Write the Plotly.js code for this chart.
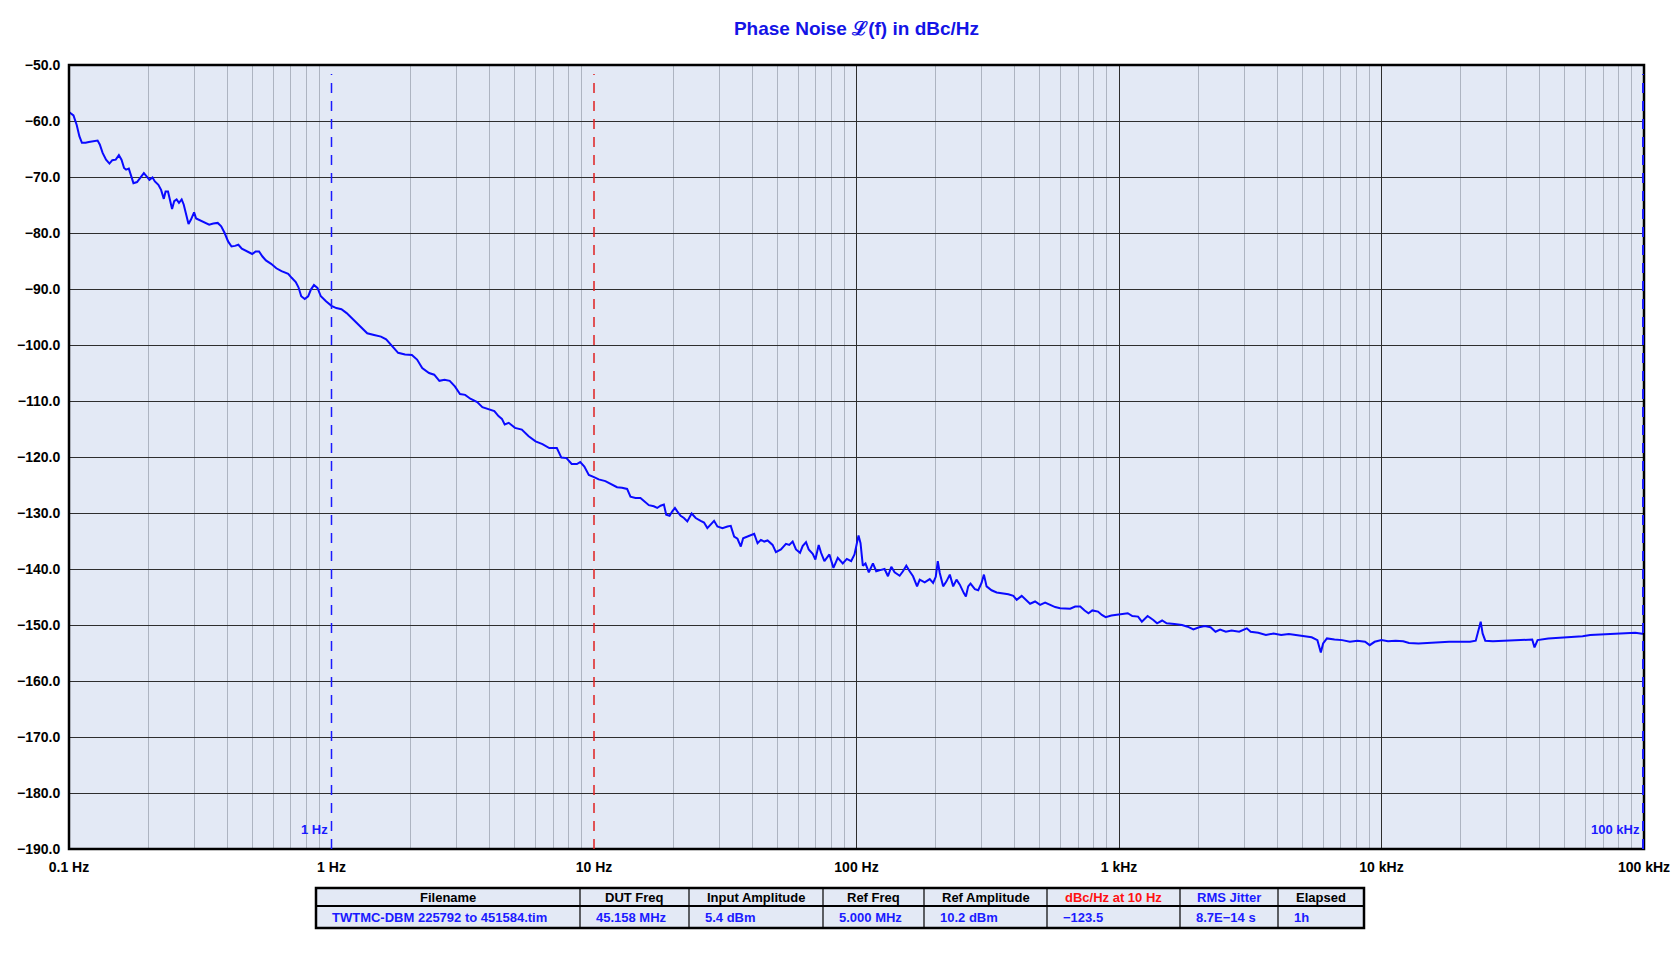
<!DOCTYPE html>
<html>
<head>
<meta charset="utf-8">
<script src="https://cdn.plot.ly/plotly-3.0.1.min.js"></script>
<style>html,body{margin:0;padding:0;background:#fff;}#chart{width:1680px;height:967px;}</style>
</head>
<body>
<div id="chart"></div>
<script>
// ---------- DATA ----------
const freqHz = [
  0.1, 0.104, 0.107, 0.1095, 0.112, 0.1156, 0.119, 0.1247, 0.1285, 0.131, 0.1343, 0.1384, 0.1426, 0.1462, 0.1507,
  0.1549, 0.1585, 0.1621, 0.165, 0.169, 0.172, 0.176, 0.1816, 0.1871, 0.1928, 0.1976, 0.2025, 0.208, 0.2124, 0.219,
  0.2243, 0.2297, 0.2333, 0.2383, 0.2427, 0.247, 0.2517, 0.257, 0.2624, 0.2687, 0.2735, 0.2786, 0.2853, 0.2915, 0.2996,
  0.305, 0.317, 0.332, 0.342, 0.3546, 0.3686, 0.3801, 0.3917, 0.4037, 0.416, 0.4287, 0.4418, 0.4553, 0.4766, 0.4989,
  0.514, 0.5297, 0.5458, 0.5625, 0.5888, 0.6164, 0.6452, 0.6842, 0.7051, 0.7309, 0.7485, 0.7668, 0.7905, 0.8149, 0.8346,
  0.8574, 0.8839, 0.9109, 0.9529, 1.0, 1.043, 1.091, 1.142, 1.213, 1.269, 1.328, 1.368, 1.453, 1.543, 1.615,
  1.689, 1.794, 1.906, 2.024, 2.118, 2.216, 2.353, 2.462, 2.576, 2.695, 2.82, 2.951, 3.087, 3.23, 3.38,
  3.59, 3.756, 3.93, 4.172, 4.326, 4.459, 4.568, 4.733, 5.0, 5.309, 5.638, 5.99, 6.362, 6.756, 7.22,
  7.51, 7.857, 8.222, 8.603, 8.863, 9.188, 9.556, 10.0,
  10.42, 11.05, 11.72, 12.24, 12.79, 13.37, 13.77, 14.39, 15.03, 15.71, 16.18, 16.9, 17.41, 17.93, 18.46,
  18.84, 19.41, 19.87, 20.34, 20.76, 21.38, 22.01, 22.67, 23.55, 24.4, 25.5, 26.25, 27.03, 27.84, 28.67,
  29.52, 30.85, 32.24, 33.19, 34.19, 35.2, 36.25, 37.0, 38.43, 39.58, 40.76, 41.98, 43.23, 44.51, 45.84,
  47.9, 49.32, 51.54, 53.86, 55.46, 57.12, 58.82, 60.92, 62.36, 64.22, 65.74, 68.1, 69.72, 71.78, 73.28,
  75.46, 78.86, 81.68, 84.85, 88.66, 91.86, 95.41, 98.26, 100, 101.8, 103.6, 105.7, 108.2, 111.4, 115.5,
  118.9, 123.1, 127.9, 131.8, 135.7, 139.7, 146.0, 150.3, 154.8, 159.4, 164.2, 170.1, 174.1, 181.9, 190.1,
  195.8, 200.4, 204.0, 207.6, 213.8, 220.2, 226.7, 233.5, 240.4, 247.5, 256.4, 261.0, 266.4, 271.9, 282.5,
  290.9, 299.5, 305.8, 313.0, 327.0, 341.9, 362.5, 378.8, 395.8, 407.6, 425.9, 445.1, 458.3, 479.0, 500.5,
  523.0, 546.6, 571.2, 596.9, 623.7, 651.7, 681.0, 711.7,
  739.8, 765.1, 791.2, 832.0, 860.3, 889.5, 935.2, 983.3, 1034, 1080, 1124, 1182, 1222, 1285, 1351,
  1397, 1460, 1519, 1625, 1737, 1826, 1920, 2019, 2123, 2232, 2332, 2428, 2553, 2684, 2870,
  3069, 3173, 3393, 3627, 3879, 4147, 4435, 4742, 5070, 5420, 5699, 5873, 5992, 6196, 6625,
  7085, 7576, 8099, 8660, 9014, 9416, 10000, 10586, 11321, 12101, 12729, 13836, 14795, 16359, 18087,
  19996, 21737, 22856, 23399, 23873, 24277, 24850, 26572, 28893, 31946, 34735, 37511, 38270, 39310, 43170,
  47730, 52780, 58340, 62390, 68980, 76260, 84330, 92610, 100000
];
const phaseNoiseDbcHz = [
  -58.4, -59.0, -60.7, -62.7, -63.9, -63.9, -63.75, -63.6, -63.5, -64.2, -65.7, -66.9, -67.6, -67.0, -66.9,
  -66.1, -66.9, -68.4, -68.7, -68.5, -69.6, -71.1, -70.9, -70.1, -69.3, -69.9, -70.5, -70.1, -70.8, -71.4,
  -72.3, -73.9, -72.6, -72.6, -74.0, -75.7, -74.3, -74.0, -74.6, -74.0, -74.9, -76.7, -78.4, -77.6, -76.3,
  -77.4, -77.8, -78.2, -78.5, -78.3, -78.2, -78.8, -80.0, -81.5, -82.4, -82.3, -82.1, -82.8, -83.3, -83.75,
  -83.3, -83.3, -84.2, -84.9, -85.5, -86.3, -86.8, -87.3, -88.0, -88.75, -89.7, -91.3, -91.8, -91.3, -90.1,
  -89.3, -89.8, -91.3, -92.2, -93.0, -93.4, -93.6, -94.3, -95.5, -96.25, -97.3, -97.9, -98.2, -98.5, -99.0,
  -100.1, -101.4, -101.7, -101.8, -102.6, -104.1, -105.0, -105.3, -106.4, -106.2, -106.4, -107.4, -108.75, -108.9, -109.6,
  -110.2, -111.1, -111.4, -111.8, -112.7, -113.2, -114.2, -113.9, -114.8, -115.1, -116.3, -117.2, -117.7, -118.4, -118.4,
  -120.1, -120.2, -121.25, -121.25, -120.9, -121.7, -123.2, -123.6,
  -124.0, -124.3, -124.9, -125.4, -125.5, -125.7, -127.1, -127.3, -127.3, -128.1, -128.6, -128.8, -129.1, -128.7, -128.5,
  -130.3, -130.5, -129.7, -129.1, -129.7, -130.5, -130.9, -131.5, -130.1, -130.9, -131.4, -131.7, -132.7, -132.1, -131.4,
  -132.4, -132.7, -132.4, -132.3, -134.2, -134.6, -136.0, -134.5, -134.2, -133.9, -133.7, -135.4, -134.8, -135.1, -134.9,
  -135.7, -137.0, -136.5, -135.5, -135.7, -135.1, -136.5, -137.1, -135.9, -135.2, -136.5, -137.3, -138.3, -135.7, -137.1,
  -138.6, -137.4, -139.8, -138.0, -139.0, -138.2, -138.6, -137.4, -135.7, -134.0, -135.4, -139.4, -139.0, -140.6, -139.0,
  -140.4, -140.2, -140.0, -141.3, -139.6, -140.6, -141.2, -140.4, -139.4, -140.4, -141.3, -143.1, -141.9, -142.4, -141.8,
  -142.5, -141.4, -138.6, -140.7, -143.1, -142.2, -141.0, -143.1, -141.9, -142.8, -144.3, -144.9, -143.1, -142.6, -143.6,
  -143.8, -142.5, -141.0, -143.1, -143.8, -144.2, -144.3, -144.5, -144.8, -145.5, -144.8, -145.6, -146.2, -145.8, -146.4,
  -146.0, -146.4, -146.8, -147.0, -147.1, -147.1, -146.7, -146.7,
  -147.4, -147.9, -147.4, -147.6, -148.2, -148.6, -148.3, -148.2, -148.1, -147.9, -148.4, -148.5, -149.4, -148.4, -149.1,
  -149.7, -149.2, -149.7, -149.8, -150.0, -150.3, -150.8, -150.4, -150.2, -150.4, -151.2, -150.8, -151.2, -151.0, -151.2,
  -150.6, -151.2, -151.4, -151.8, -151.5, -151.8, -151.6, -151.8, -152.0, -152.2, -152.7, -154.9, -153.3, -152.4, -152.6,
  -152.7, -153.0, -152.8, -153.0, -153.6, -153.0, -152.7, -152.9, -152.8, -152.9, -153.2, -153.3, -153.2, -153.1, -153.0,
  -153.0, -153.0, -152.8, -151.2, -149.4, -151.5, -152.8, -152.9, -152.8, -152.8, -152.7, -152.6, -154.0, -152.7, -152.4,
  -152.3, -152.2, -152.0, -151.8, -151.7, -151.6, -151.6, -151.4, -151.6
];

const xTickVals = [0.1, 1, 10, 100, 1000, 10000, 100000];
const xTickText = ['0.1 Hz', '1 Hz', '10 Hz', '100 Hz', '1 kHz', '10 kHz', '100 kHz'];
const majorGridFreqs = [100, 1000, 10000];   // decades not covered by a marker line

const markerFreqs = [1, 10, 100000];
const markerColors = ['#1a1aff', '#e02020', '#1a1aff'];
const markerLabels = ['1 Hz', '', '100 kHz'];

const tableHeaders = ['Filename', 'DUT Freq', 'Input Amplitude', 'Ref Freq', 'Ref Amplitude', 'dBc/Hz at 10 Hz', 'RMS Jitter', 'Elapsed'];
const tableValues = ['TWTMC-DBM 225792 to 451584.tim', '45.158 MHz', '5.4 dBm', '5.000 MHz', '10.2 dBm', '\u2212123.5', '8.7E\u221214 s', '1h'];
const tableHeaderColors = ['#000000', '#000000', '#000000', '#000000', '#000000', '#ff1010', '#1a1aff', '#000000'];

// ---------- LAYOUT GEOMETRY ----------
const W = 1680, H = 967;
const M = {l: 69, r: 36, t: 65, b: 30};
const PW = W - M.l - M.r, PH = H - M.t - M.b;
const plotBottomPx = 849;
const yDomLow = (H - M.b - plotBottomPx) / PH;
const tblTopPx = 888, tblMidPx = 906, tblBotPx = 928, tblLeftPx = 316;
const colW = [264, 109, 134, 101, 123, 133, 98, 86];
const px = x => (x - M.l) / PW;
const py = y => (H - M.b - y) / PH;

const FONT = 'Liberation Sans, Arial, sans-serif';
const BG = '#e3e9f5';

// minor (2..9 per decade) grid positions of the log axis
const minorGrid = [];
for (let e = -1; e < 5; e++) for (let d = 2; d <= 9; d++) minorGrid.push(d * Math.pow(10, e));

const traces = [
  {
    type: 'scatter', mode: 'lines',
    x: freqHz, y: phaseNoiseDbcHz,
    line: {color: '#0a0aff', width: 2},
    hoverinfo: 'x+y', showlegend: false
  }
];

const shapes = [];
const annotations = [];

// plot frame (drawn first so the marker lines sit on top of it)
shapes.push({type: 'rect', xref: 'x domain', yref: 'y domain', x0: 0, x1: 1, y0: 0, y1: 1,
  line: {color: '#000', width: 2.5}, layer: 'above'});

// frequency marker lines (shapes on log axes use raw data values)
markerFreqs.forEach((f, i) => {
  shapes.push({
    type: 'line', xref: 'x', yref: 'y',
    x0: f, x1: f, y0: -190, y1: -51.6,
    line: {color: markerColors[i], width: i === 2 ? 4 : 1.5, dash: '10px,8px'},
    layer: 'above'
  });
  if (markerLabels[i]) {
    annotations.push({
      xref: 'x', yref: 'y', x: Math.log10(f), y: -186.6,
      text: markerLabels[i], showarrow: false, xanchor: 'right', yanchor: 'middle', xshift: -2,
      font: {family: FONT, size: 13, color: markerColors[i], weight: 'bold'}
    });
  }
});

// info table drawn with shapes + annotations
const colEdges = [tblLeftPx];
colW.forEach(w => colEdges.push(colEdges[colEdges.length - 1] + w));
const tblRightPx = colEdges[colEdges.length - 1];
shapes.push({type: 'rect', xref: 'paper', yref: 'paper',
  x0: px(tblLeftPx), x1: px(tblRightPx), y0: py(tblBotPx), y1: py(tblTopPx),
  fillcolor: BG, line: {color: '#000', width: 2.5}, layer: 'above'});
shapes.push({type: 'line', xref: 'paper', yref: 'paper',
  x0: px(tblLeftPx), x1: px(tblRightPx), y0: py(tblMidPx), y1: py(tblMidPx),
  line: {color: '#000', width: 2}, layer: 'above'});
for (let c = 1; c < colW.length; c++) {
  shapes.push({type: 'line', xref: 'paper', yref: 'paper',
    x0: px(colEdges[c]), x1: px(colEdges[c]), y0: py(tblBotPx), y1: py(tblTopPx),
    line: {color: '#000', width: 1.2}, layer: 'above'});
}
tableHeaders.forEach((h, c) => {
  annotations.push({
    xref: 'paper', yref: 'paper',
    x: px((colEdges[c] + colEdges[c + 1]) / 2), y: py((tblTopPx + tblMidPx) / 2),
    xanchor: 'center', yanchor: 'middle', showarrow: false, text: h,
    font: {family: FONT, size: 13, color: tableHeaderColors[c], weight: 'bold'}
  });
  annotations.push({
    xref: 'paper', yref: 'paper',
    x: px(colEdges[c] + 14), y: py((tblMidPx + tblBotPx) / 2),
    xanchor: 'left', yanchor: 'middle', showarrow: false, text: tableValues[c],
    font: {family: FONT, size: 13, color: '#1a1aff', weight: 'bold'}
  });
});

const layout = {
  width: W, height: H,
  margin: M,
  paper_bgcolor: '#ffffff',
  plot_bgcolor: BG,
  showlegend: false,
  title: {
    text: 'Phase Noise \u2112(f) in dBc/Hz',
    x: 0.5, xref: 'paper', xanchor: 'center',
    y: 1 - 28 / H, yref: 'container', yanchor: 'middle',
    font: {family: FONT, size: 19, color: '#1414e6', weight: 'bold'}
  },
  xaxis: {
    type: 'log', range: [-1, 5],
    tickmode: 'array', tickvals: xTickVals, ticktext: xTickText,
    showgrid: false,
    minor: {tickmode: 'array', tickvals: minorGrid, showgrid: true, gridcolor: '#adb4c1', gridwidth: 1, ticks: ''},
    ticks: 'outside', ticklen: 5, tickcolor: 'rgba(0,0,0,0)',
    tickfont: {family: FONT, size: 14, color: '#000', weight: 'bold'},
    zeroline: false, showline: false, anchor: 'y'
  },
  xaxis2: {
    type: 'log', range: [-1, 5], overlaying: 'x', anchor: 'y', side: 'bottom',
    tickmode: 'array', tickvals: majorGridFreqs, showticklabels: false, ticks: '',
    showgrid: true, gridcolor: '#2e2e2e', gridwidth: 1,
    zeroline: false, showline: false
  },
  yaxis: {
    range: [-190, -50], domain: [yDomLow, 1],
    tick0: -50, dtick: 10, tickformat: '.1f',
    showgrid: true, gridcolor: '#2e2e2e', gridwidth: 1,
    ticks: 'outside', ticklen: 5, tickcolor: 'rgba(0,0,0,0)',
    tickfont: {family: FONT, size: 14, color: '#000', weight: 'bold'},
    zeroline: false, showline: false
  },
  shapes: shapes,
  annotations: annotations
};

// an invisible companion trace makes the overlay axis (major decade grid) active
traces.push({type: 'scatter', mode: 'lines', x: [xTickVals[0]], y: [phaseNoiseDbcHz[0]],
  xaxis: 'x2', yaxis: 'y', line: {width: 0}, hoverinfo: 'skip', showlegend: false, visible: true, opacity: 0});

Plotly.newPlot('chart', traces, layout, {displayModeBar: false, staticPlot: true});
</script>
</body>
</html>
